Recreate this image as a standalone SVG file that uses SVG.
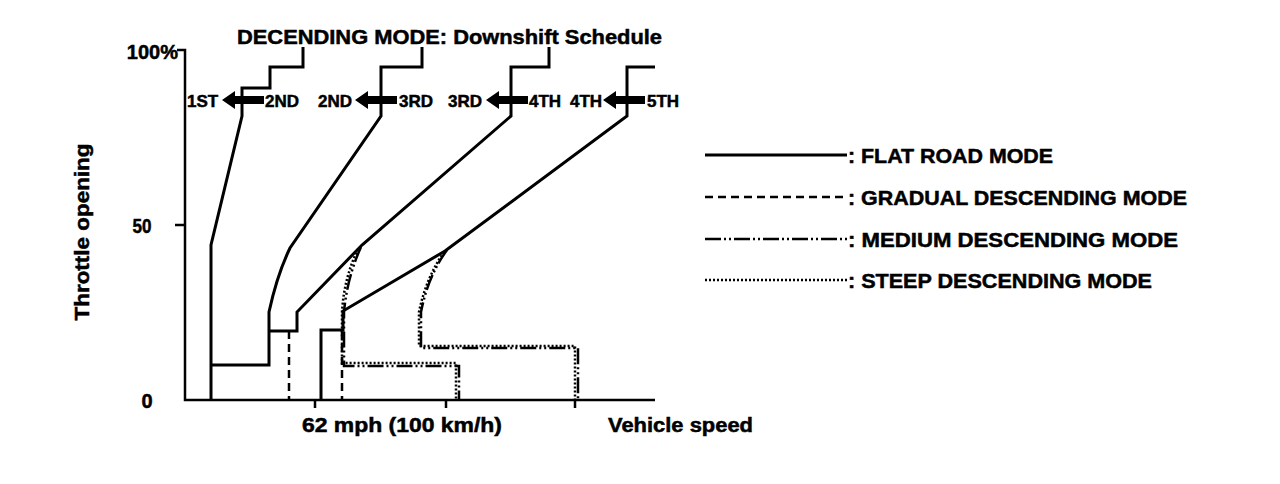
<svg xmlns="http://www.w3.org/2000/svg" width="1280" height="484" viewBox="0 0 1280 484">
<style>
text{font-family:"Liberation Sans",Arial,Helvetica,sans-serif;font-weight:bold;fill:#000;stroke:#000;stroke-width:0.5}
.t20{font-size:20px}
.t21{font-size:21px}
.g{font-size:17px}
.ax{stroke:#000;stroke-width:2.5;fill:none}
.flat{stroke:#000;stroke-width:3;fill:none;stroke-linejoin:miter}
.grad{stroke:#000;stroke-width:2.5;fill:none;stroke-dasharray:8 5}
.med{stroke:#000;stroke-width:2.5;fill:none;stroke-dasharray:16 3 2 3 2 3}
.steep{stroke:#000;stroke-width:2.5;fill:none;stroke-dasharray:2 2}
</style>
<defs>
<path id="arr" d="M0,0 L13,-9 L13,-4 L42,-4 L42,4 L13,4 L13,9 Z" fill="#000"/>
</defs>
<rect width="1280" height="484" fill="#fff"/>
<g id="axes">
<path class="ax" d="M177,50 H185 V400 H655 M175,225 H185 M315,400 V408 M446,400 V408 M575,400 V408"/>
<text class="t20" x="178" y="59" text-anchor="end">100%</text>
<text class="t20" x="142" y="233" text-anchor="middle" textLength="19" lengthAdjust="spacingAndGlyphs">50</text>
<text class="t20" x="147" y="408" text-anchor="middle">0</text>
<text class="t21" transform="translate(89,232) rotate(-90)" text-anchor="middle" textLength="177" lengthAdjust="spacingAndGlyphs">Throttle opening</text>
<text class="t20" x="302" y="432" textLength="200" lengthAdjust="spacingAndGlyphs">62 mph (100 km/h)</text>
<text class="t20" x="608" y="432" textLength="145" lengthAdjust="spacingAndGlyphs">Vehicle speed</text>
</g>
<g id="title">
<text class="t21" x="237" y="44" textLength="425" lengthAdjust="spacingAndGlyphs">DECENDING MODE: Downshift Schedule</text>
</g>
<g id="connectors">
<path class="flat" d="M211,400 V245 L242,116 V88 H270 V67 H303 V47"/>
<path class="flat" d="M211,365 H269 V312 Q277,275 290,248 L381,116 V67 H422 V47"/>
<path class="flat" d="M269,331 H297 V312 L362,245 L511,116 V67 H549 V47"/>
<path class="flat" d="M321,400 V330 H343 V311 L445,251 L627,116 V67 H655"/>
<path class="grad" d="M289,331 V400"/>
<path class="grad" d="M342,331 V400"/>
<path class="med" d="M361,247 Q347,278 344,312 V366 H459 V400"/>
<path class="steep" d="M358,249 Q344,278 342,312 V363 H456 V400"/>
<path class="med" d="M447,250 Q428,276 421,312 V348 H578 V400"/>
<path class="steep" d="M444,252 Q426,278 419,312 V346 H575 V400"/>
</g>
<g id="gears">
<text class="g" x="187" y="107">1ST</text>
<use href="#arr" x="222" y="100"/>
<text class="g" x="265" y="107">2ND</text>
<text class="g" x="318" y="107">2ND</text>
<use href="#arr" x="355" y="100"/>
<text class="g" x="399" y="107">3RD</text>
<text class="g" x="448" y="107">3RD</text>
<use href="#arr" x="486" y="100"/>
<text class="g" x="529" y="107">4TH</text>
<text class="g" x="570" y="107">4TH</text>
<use href="#arr" x="603" y="100"/>
<text class="g" x="647" y="107">5TH</text>
</g>
<g id="legend">
<path class="flat" d="M705,155 H847"/>
<path class="grad" d="M705,197 H847"/>
<path class="med" d="M705,239 H847"/>
<path class="steep" d="M705,280 H847"/>
<text class="t21" x="848" y="163" textLength="205" lengthAdjust="spacingAndGlyphs">: FLAT ROAD MODE</text>
<text class="t21" x="848" y="205" textLength="339" lengthAdjust="spacingAndGlyphs">: GRADUAL DESCENDING MODE</text>
<text class="t21" x="848" y="247" textLength="330" lengthAdjust="spacingAndGlyphs">: MEDIUM DESCENDING MODE</text>
<text class="t21" x="848" y="288" textLength="304" lengthAdjust="spacingAndGlyphs">: STEEP DESCENDING MODE</text>
</g>
</svg>
